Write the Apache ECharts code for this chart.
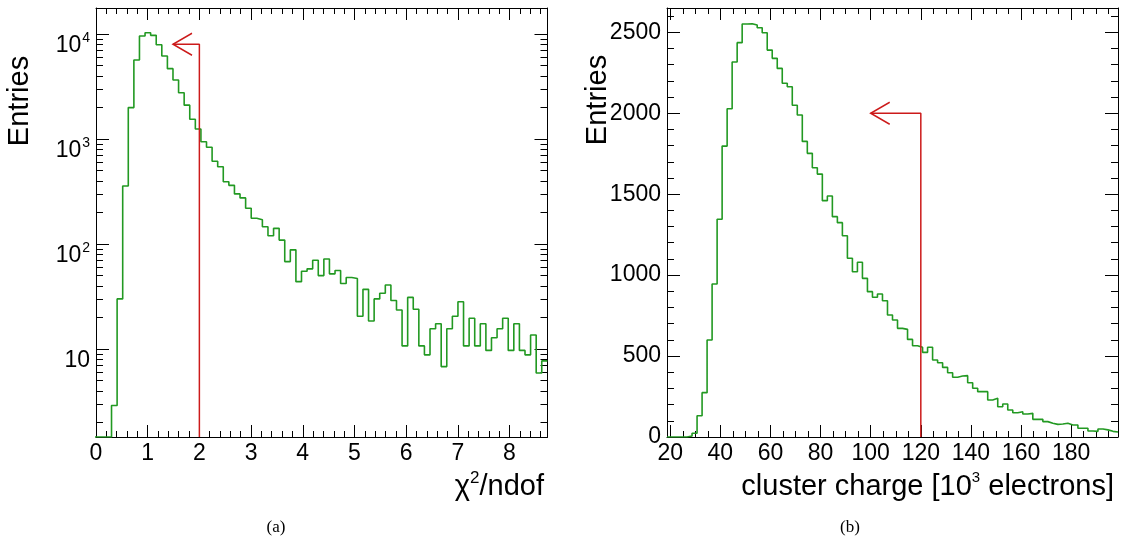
<!DOCTYPE html>
<html><head><meta charset="utf-8">
<script src="https://cdn.jsdelivr.net/npm/echarts@6/dist/echarts.min.js"></script>
<style>html,body{margin:0;padding:0;background:#fff}#c{width:1125px;height:549px}</style>
</head><body><div id="c"></div>
<script>
// ---------- DATA ----------
// (a) chi2/ndof histogram (log y)
const leftBinStart = -0.024;
const leftBinWidth = 0.1081;
const leftCounts = [0,0,0,2.9,30,357,1990,5650,9570,10290,9710,7910,6170,4680,3650,2760,2100,1540,1245,942,834,614,545,392,362,300,275,219,176,170,146,120,141,109,68,88,43.8,55,58,70,50,72,52,56,42,48,47,20.5,37,18.5,30,34,40.7,29,23.5,10.7,31,23.9,10.7,8.8,15.6,17.4,6.8,15.6,20.5,28.2,10.7,19.6,10.7,17.4,9.7,12.8,15.6,19.6,9.7,17.4,9.7,8.8,13.6,5.9,7.7];
const leftXTicks = [0,1,2,3,4,5,6,7,8];
const leftYTicks = [10,100,1000,10000];
const leftXRange = [0, 8.735];
const leftYRange = [1.452, 17687];
const leftCut = 2;
const leftArrowLevel = 8000;
const leftArrowTip = 1.49;

// (b) cluster charge histogram
const rightBinStart = 18.7;
const rightBinWidth = 2;
const rightCounts = [0,0,0,0,6,23,131,274,599,945,1345,1797,2028,2316,2436,2551,2553,2545,2528,2497,2390,2339,2277,2185,2164,2049,1989,1826,1752,1663,1624,1460,1489,1361,1324,1243,1104,1021,1079,980,898,863,883,842,754,723,671,665,603,564,554,523,554,476,459,430,397,369,377,379,335,301,280,280,229,239,187,204,167,150,156,142,146,109,109,95,85,78,80,85,74,74,54,54,37,35,49,44,35,31];
const rightXTicks = [20,40,60,80,100,120,140,160,180];
const rightYTicks = [0,500,1000,1500,2000,2500];
const rightXRange = [18.7, 198.7];
const rightYRange = [0, 2650];
const rightCut = 120;
const rightArrowLevel = 2000;
const rightArrowTip = 100;

// ---------- BUILD ----------
function histPoints(lo, w, counts, floor) {
  const pts = [];
  for (let i = 0; i < counts.length; i++) pts.push([lo + i * w, Math.max(counts[i], floor)]);
  pts.push([lo + counts.length * w, Math.max(counts[counts.length - 1], floor)]);
  return pts;
}
function minorLinear(lo, hi, step, majorStep) {
  const out = [];
  for (let v = Math.ceil(lo / step) * step; v <= hi + 1e-9; v += step) {
    const r = Math.round(v * 1000) / 1000;
    if (Math.abs(r / majorStep - Math.round(r / majorStep)) > 1e-6) out.push(r);
  }
  return out;
}
function minorLog(lo, hi) {
  const out = [];
  for (let d = 1; d <= 100000; d *= 10) for (let m = 2; m <= 9; m++) {
    const v = m * d; if (v > lo && v < hi) out.push(v);
  }
  return out;
}

const green = '#229922', red = '#cc1a1a';
const FONT = 'Liberation Sans';
const labelBase = { fontFamily: FONT, fontSize: 23, color: '#000' };
const plain = function (v) { return String(v); };

function axis(gridIndex, position, type, range, ticks, len, opts) {
  opts = opts || {};
  return {
    type: type, gridIndex: gridIndex, position: position, min: range[0], max: range[1],
    axisLine: { show: !!opts.line, onZero: false, lineStyle: { color: '#000', width: 1 } },
    axisTick: { show: true, inside: true, length: len, customValues: ticks, lineStyle: { color: '#000', width: 1 } },
    axisLabel: opts.label ? Object.assign({ show: true, customValues: ticks, formatter: plain }, labelBase, opts.label) : { show: false },
    splitLine: { show: false }, minorTick: { show: false }, minorSplitLine: { show: false }
  };
}

const leftXMinor = minorLinear(leftXRange[0], leftXRange[1], 0.2, 1);
const leftYMinor = minorLog(leftYRange[0], leftYRange[1]);
const rightXMinor = minorLinear(rightXRange[0], rightXRange[1], 5, 20);
const rightYMinor = minorLinear(rightYRange[0], rightYRange[1], 100, 500);

const gL = { left: 96, right: 577.5, top: 8, bottom: 112 };
const gR = { left: 667, right: 7, top: 8, bottom: 112 };

const logLabel = {
  margin: 6,
  formatter: function (v) {
    const e = Math.round(Math.log10(v));
    return e === 1 ? '{b|10}' : '{b|10}{s|' + e + '}';
  },
  rich: {
    b: { fontFamily: FONT, fontSize: 23, lineHeight: 23, padding: [12, 0, 0, 0], verticalAlign: 'top' },
    s: { fontFamily: FONT, fontSize: 14, lineHeight: 14, padding: [9, 0, 0, 1], verticalAlign: 'top' }
  }
};

const option = {
  animation: false,
  backgroundColor: '#fff',
  grid: [gL, gL, gR, gR],
  xAxis: [
    axis(0, 'bottom', 'value', leftXRange, leftXTicks, 12, { line: true, label: { margin: 5 } }),
    axis(0, 'top', 'value', leftXRange, leftXTicks, 12, { line: true }),
    axis(1, 'bottom', 'value', leftXRange, leftXMinor, 6),
    axis(1, 'top', 'value', leftXRange, leftXMinor, 6),
    axis(2, 'bottom', 'value', rightXRange, rightXTicks, 12, { line: true, label: { margin: 5 } }),
    axis(2, 'top', 'value', rightXRange, rightXTicks, 12, { line: true }),
    axis(3, 'bottom', 'value', rightXRange, rightXMinor, 6),
    axis(3, 'top', 'value', rightXRange, rightXMinor, 6)
  ],
  yAxis: [
    axis(0, 'left', 'log', leftYRange, leftYTicks, 13, { line: true, label: logLabel }),
    axis(0, 'right', 'log', leftYRange, leftYTicks, 13, { line: true }),
    axis(1, 'left', 'log', leftYRange, leftYMinor, 7),
    axis(1, 'right', 'log', leftYRange, leftYMinor, 7),
    axis(2, 'left', 'value', rightYRange, rightYTicks, 13, { line: true, label: { margin: 6 } }),
    axis(2, 'right', 'value', rightYRange, rightYTicks, 13, { line: true }),
    axis(3, 'left', 'value', rightYRange, rightYMinor, 7),
    axis(3, 'right', 'value', rightYRange, rightYMinor, 7)
  ],
  series: [
    { type: 'line', xAxisIndex: 0, yAxisIndex: 0, step: 'end', symbol: 'none', clip: true,
      lineStyle: { color: green, width: 1.6 }, data: histPoints(leftBinStart, leftBinWidth, leftCounts, leftYRange[0]) },
    { type: 'line', xAxisIndex: 0, yAxisIndex: 0, clip: true, showSymbol: true, symbol: 'none',
      lineStyle: { color: red, width: 1.5 }, itemStyle: { color: 'rgba(0,0,0,0)', borderColor: red, borderWidth: 1.5 },
      data: [[leftCut, leftYRange[0]], [leftCut, leftArrowLevel],
        { value: [leftArrowTip, leftArrowLevel], symbol: 'path://M19,0L0,11L19,22', symbolSize: [19, 22], symbolOffset: [9.5, 0], symbolKeepAspect: false }] },
    { type: 'line', xAxisIndex: 4, yAxisIndex: 4, step: 'end', symbol: 'none', clip: true,
      lineStyle: { color: green, width: 1.6 }, data: histPoints(rightBinStart, rightBinWidth, rightCounts, 0) },
    { type: 'line', xAxisIndex: 4, yAxisIndex: 4, clip: true, showSymbol: true, symbol: 'none',
      lineStyle: { color: red, width: 1.5 }, itemStyle: { color: 'rgba(0,0,0,0)', borderColor: red, borderWidth: 1.5 },
      data: [[rightCut, rightYRange[0]], [rightCut, rightArrowLevel],
        { value: [rightArrowTip, rightArrowLevel], symbol: 'path://M19,0L0,11L19,22', symbolSize: [19, 22], symbolOffset: [9.5, 0], symbolKeepAspect: false }] }
  ],
  graphic: [
    { type: 'text', x: 20, y: 101, rotation: Math.PI / 2, style: { text: 'Entries', fontFamily: FONT, fontSize: 29, fill: '#000', align: 'center', verticalAlign: 'middle' } },
    { type: 'text', x: 598, y: 100, rotation: Math.PI / 2, style: { text: 'Entries', fontFamily: FONT, fontSize: 29, fill: '#000', align: 'center', verticalAlign: 'middle' } },
    { type: 'text', x: 544, y: 470, style: { text: '{m|χ}{s|2}{m|/ndof}', align: 'right', verticalAlign: 'top', fill: '#000',
        rich: { m: { fontFamily: FONT, fontSize: 29, lineHeight: 29, padding: [2, 0, 0, 0], verticalAlign: 'top' },
                s: { fontFamily: FONT, fontSize: 17, lineHeight: 17, verticalAlign: 'top' } } } },
    { type: 'text', x: 1114, y: 470, style: { text: '{m|cluster charge [10}{s|3}{m| electrons]}', align: 'right', verticalAlign: 'top', fill: '#000',
        rich: { m: { fontFamily: FONT, fontSize: 29, lineHeight: 29, padding: [2, 0, 0, 0], verticalAlign: 'top' },
                s: { fontFamily: FONT, fontSize: 15, lineHeight: 15, verticalAlign: 'top' } } } },
    { type: 'text', x: 276, y: 528, style: { text: '(a)', fontFamily: 'Liberation Serif', fontSize: 17, fill: '#000', align: 'center', verticalAlign: 'middle' } },
    { type: 'text', x: 850, y: 528, style: { text: '(b)', fontFamily: 'Liberation Serif', fontSize: 17, fill: '#000', align: 'center', verticalAlign: 'middle' } }
  ]
};

const chart = echarts.init(document.getElementById('c'), null, { renderer: 'canvas', width: 1125, height: 549 });
chart.setOption(option);
</script>
</body></html>
